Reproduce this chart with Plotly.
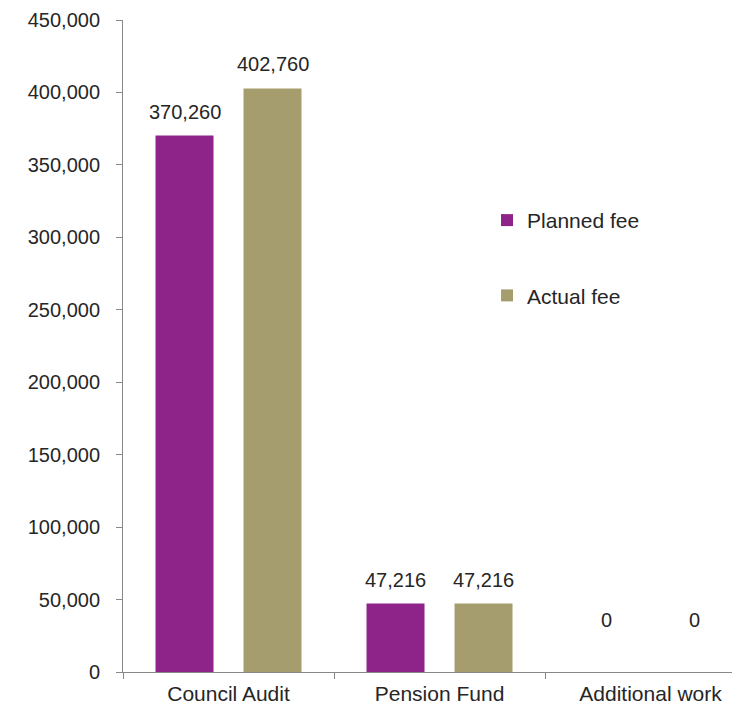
import plotly.graph_objects as go

categories = ["Council Audit", "Pension Fund", "Additional work"]
planned_fee = [370260, 47216, 0]
actual_fee = [402760, 47216, 0]
series_names = ["Planned fee", "Actual fee"]
colors = ["#8E2489", "#A69D6E"]
y_ticks = list(range(0, 450001, 50000))

FONT = "Liberation Sans, Arial, sans-serif"
TXT = "#262626"

fig = go.Figure()
for i, (name, vals) in enumerate(zip(series_names, [planned_fee, actual_fee])):
    fig.add_trace(go.Bar(
        x=categories, y=vals, name=name, legendgroup=name,
        marker=dict(color=colors[i], line=dict(width=0)),
        offsetgroup=str(i),
    ))

# data labels
ann = []
for i, vals in enumerate([planned_fee, actual_fee]):
    for c, v in zip(categories, vals):
        ann.append(dict(
            x=c, y=v, xref="x", yref="y", text=f"{v:,}", showarrow=False,
            xshift=(-44 if i == 0 else 44), yshift=(24 if v > 0 else 52),
            font=dict(size=20, color=TXT, family=FONT),
        ))

fig.update_layout(
    width=732, height=700,
    margin=dict(l=115, r=0, t=12, b=36),
    paper_bgcolor="white", plot_bgcolor="white",
    barmode="group", bargap=0.166, bargroupgap=0.341,
    font=dict(family=FONT, size=20, color=TXT),
    annotations=ann,
    legend=dict(x=0.59, y=0.724, xanchor="left", yanchor="top",
                tracegroupgap=45, font=dict(size=21, color=TXT, family=FONT),
                itemwidth=30, bgcolor="rgba(0,0,0,0)"),
    showlegend=True,
)
fig.update_xaxes(
    range=[-0.5, 2.424], showline=True, linecolor="#888", linewidth=1,
    ticks="outside", ticklen=6, tickcolor="#888", tickson="boundaries",
    showgrid=False, tickfont=dict(size=21, color=TXT, family=FONT),
    ticklabelstandoff=3,
)
fig.update_yaxes(
    range=[0, 450000], tickvals=y_ticks, ticktext=[f"{t:,}" for t in y_ticks],
    showline=True, linecolor="#888", linewidth=1,
    ticks="outside", ticklen=6, tickcolor="#888", showgrid=False, zeroline=False,
    tickfont=dict(size=20, color=TXT, family=FONT), ticklabelstandoff=12,
)
fig.write_html("out.html")
